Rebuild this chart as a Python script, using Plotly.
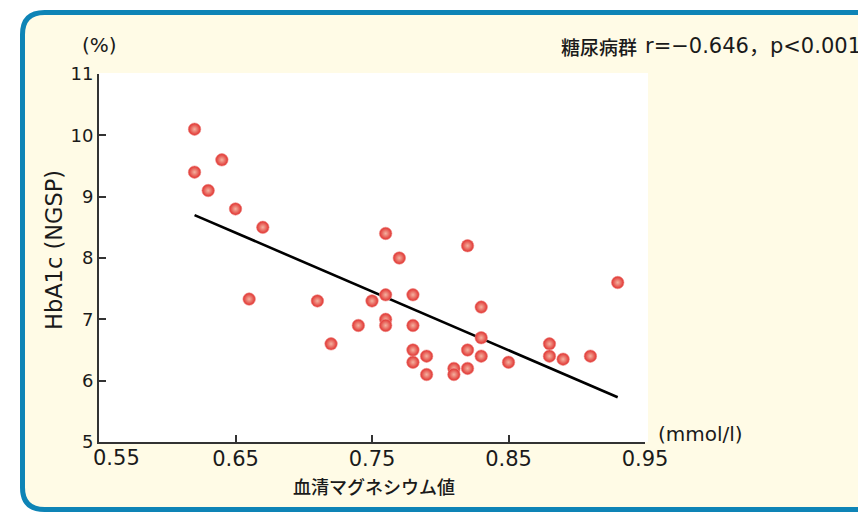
import plotly.graph_objects as go

# ---- data ----
mg = [0.62, 0.62, 0.64, 0.63, 0.65, 0.67, 0.66, 0.71, 0.72, 0.74, 0.75, 0.76,
      0.77, 0.82, 0.76, 0.78, 0.76, 0.76, 0.78, 0.83, 0.83, 0.78, 0.78, 0.79,
      0.79, 0.81, 0.81, 0.82, 0.82, 0.83, 0.85, 0.88, 0.88, 0.89, 0.91, 0.93]
hba1c = [10.1, 9.4, 9.6, 9.1, 8.8, 8.5, 7.33, 7.3, 6.6, 6.9, 7.3, 8.4,
         8.0, 8.2, 7.4, 7.4, 7.0, 6.9, 6.9, 7.2, 6.7, 6.5, 6.3, 6.4,
         6.1, 6.2, 6.1, 6.5, 6.2, 6.4, 6.3, 6.6, 6.4, 6.35, 6.4, 7.6]
fit_x = [0.62, 0.93]
fit_y = [8.70, 5.73]
x_ticks = [0.55, 0.65, 0.75, 0.85, 0.95]
x_ticktext = ["0.55", "0.65", "0.75", "0.85", "0.95"]
y_ticks = [5, 6, 7, 8, 9, 10, 11]

title_group = "糖尿病群"
title_stats = "r=−0.646，p<0.001"
x_title = "血清マグネシウム値"
y_title = "HbA1c (NGSP)"

# ---- layout geometry ----
# the page body has an 8px margin, so the figure is drawn 8px smaller and
# every reference pixel position is shifted by OFF.
OFF = 8
W, H = 866 - OFF, 512 - OFF
L, R, T = 99 - OFF, 866 - 645, 74 - OFF
B = H - (442 - OFF)
PW, PH = W - L - R, H - T - B

def px(x):
    return (x - OFF - L) / PW

def py(y):
    return ((H - B) - (y - OFF)) / PH

FONT = "DejaVu Sans, Noto Sans CJK JP, sans-serif"
CJK = "Noto Sans CJK JP, sans-serif"
TXT = "#1a1a1a"

fig = go.Figure()

fig.add_trace(go.Scatter(
    x=fit_x, y=fit_y, mode="lines",
    line=dict(color="#000000", width=2.6),
    hoverinfo="skip", showlegend=False,
))
fig.add_trace(go.Scatter(
    x=mg, y=hba1c, mode="markers",
    marker=dict(size=12.5, color="#E0302E",
                gradient=dict(type="radial", color="#F4B2A0"),
                line=dict(color="#EE8A84", width=0.6)),
    showlegend=False,
))

# frame (rounded rectangle)
l0, t0, r0, b0, rr = 22.5, 12.5, 895, 509.5, 22
path = (f"M {px(l0)},{py(t0+rr)} Q {px(l0)},{py(t0)} {px(l0+rr)},{py(t0)} "
        f"L {px(r0-rr)},{py(t0)} Q {px(r0)},{py(t0)} {px(r0)},{py(t0+rr)} "
        f"L {px(r0)},{py(b0-rr)} Q {px(r0)},{py(b0)} {px(r0-rr)},{py(b0)} "
        f"L {px(l0+rr)},{py(b0)} Q {px(l0)},{py(b0)} {px(l0)},{py(b0-rr)} Z")
shapes = [
    dict(type="path", xref="paper", yref="paper", path=path,
         fillcolor="#FFFBE6", line=dict(color="#0E84B6", width=5), layer="below"),
    dict(type="rect", xref="paper", yref="paper",
         x0=px(99), x1=px(648), y0=py(442), y1=py(73),
         fillcolor="#FFFFFF", line=dict(width=0), layer="below"),
]

# first x tick label is nudged right (as in the reference) so it clears the "5"
tick_text_shown = [""] + x_ticktext[1:]

annotations = [
    dict(text=x_ticktext[0], x=x_ticks[0], xref="x", xshift=17,
         y=py(458.5), yref="paper", xanchor="center", yanchor="middle",
         showarrow=False, font=dict(family=FONT, size=21, color=TXT)),
    dict(text=title_group, x=px(639), y=py(46), xref="paper", yref="paper",
         xanchor="right", yanchor="middle", showarrow=False,
         font=dict(family=CJK, size=19, color=TXT, weight=500)),
    dict(text=title_stats, x=px(863), y=py(46), xref="paper", yref="paper",
         xanchor="right", yanchor="middle", showarrow=False,
         font=dict(family=FONT, size=21, color=TXT)),
    dict(text="(%)", x=px(99.5), y=py(45), xref="paper", yref="paper",
         xanchor="center", yanchor="middle", showarrow=False,
         font=dict(family=FONT, size=20, color=TXT)),
    dict(text="(mmol/l)", x=px(656), y=py(434), xref="paper", yref="paper",
         xanchor="left", yanchor="middle", showarrow=False,
         font=dict(family=FONT, size=20, color=TXT)),
    dict(text=x_title, x=px(374), y=py(486), xref="paper", yref="paper",
         xanchor="center", yanchor="middle", showarrow=False,
         font=dict(family=CJK, size=18, color=TXT, weight=500)),
    dict(text=y_title, x=px(54), y=py(250), xref="paper", yref="paper",
         xanchor="center", yanchor="middle", showarrow=False, textangle=-90,
         font=dict(family=FONT, size=22.5, color=TXT)),
]

fig.update_layout(
    width=W, height=H,
    margin=dict(l=L, r=R, t=T, b=B, autoexpand=False),
    paper_bgcolor="#FFFFFF",
    plot_bgcolor="rgba(0,0,0,0)",
    shapes=shapes,
    annotations=annotations,
    xaxis=dict(range=[0.55, 0.95], tickvals=x_ticks, ticktext=tick_text_shown,
               showgrid=False, zeroline=False, showline=True,
               linecolor="#333333", linewidth=2, ticks="inside", ticklen=7,
               tickwidth=1.6, tickcolor="#333333", ticklabelstandoff=-3,
               tickfont=dict(family=FONT, size=21, color=TXT)),
    yaxis=dict(range=[5, 11], tickvals=y_ticks,
               showgrid=False, zeroline=False, showline=True,
               linecolor="#333333", linewidth=2, ticks="inside", ticklen=7,
               tickwidth=1.6, tickcolor="#333333",
               tickfont=dict(family=FONT, size=18, color=TXT)),
)

fig.write_html("out.html")
